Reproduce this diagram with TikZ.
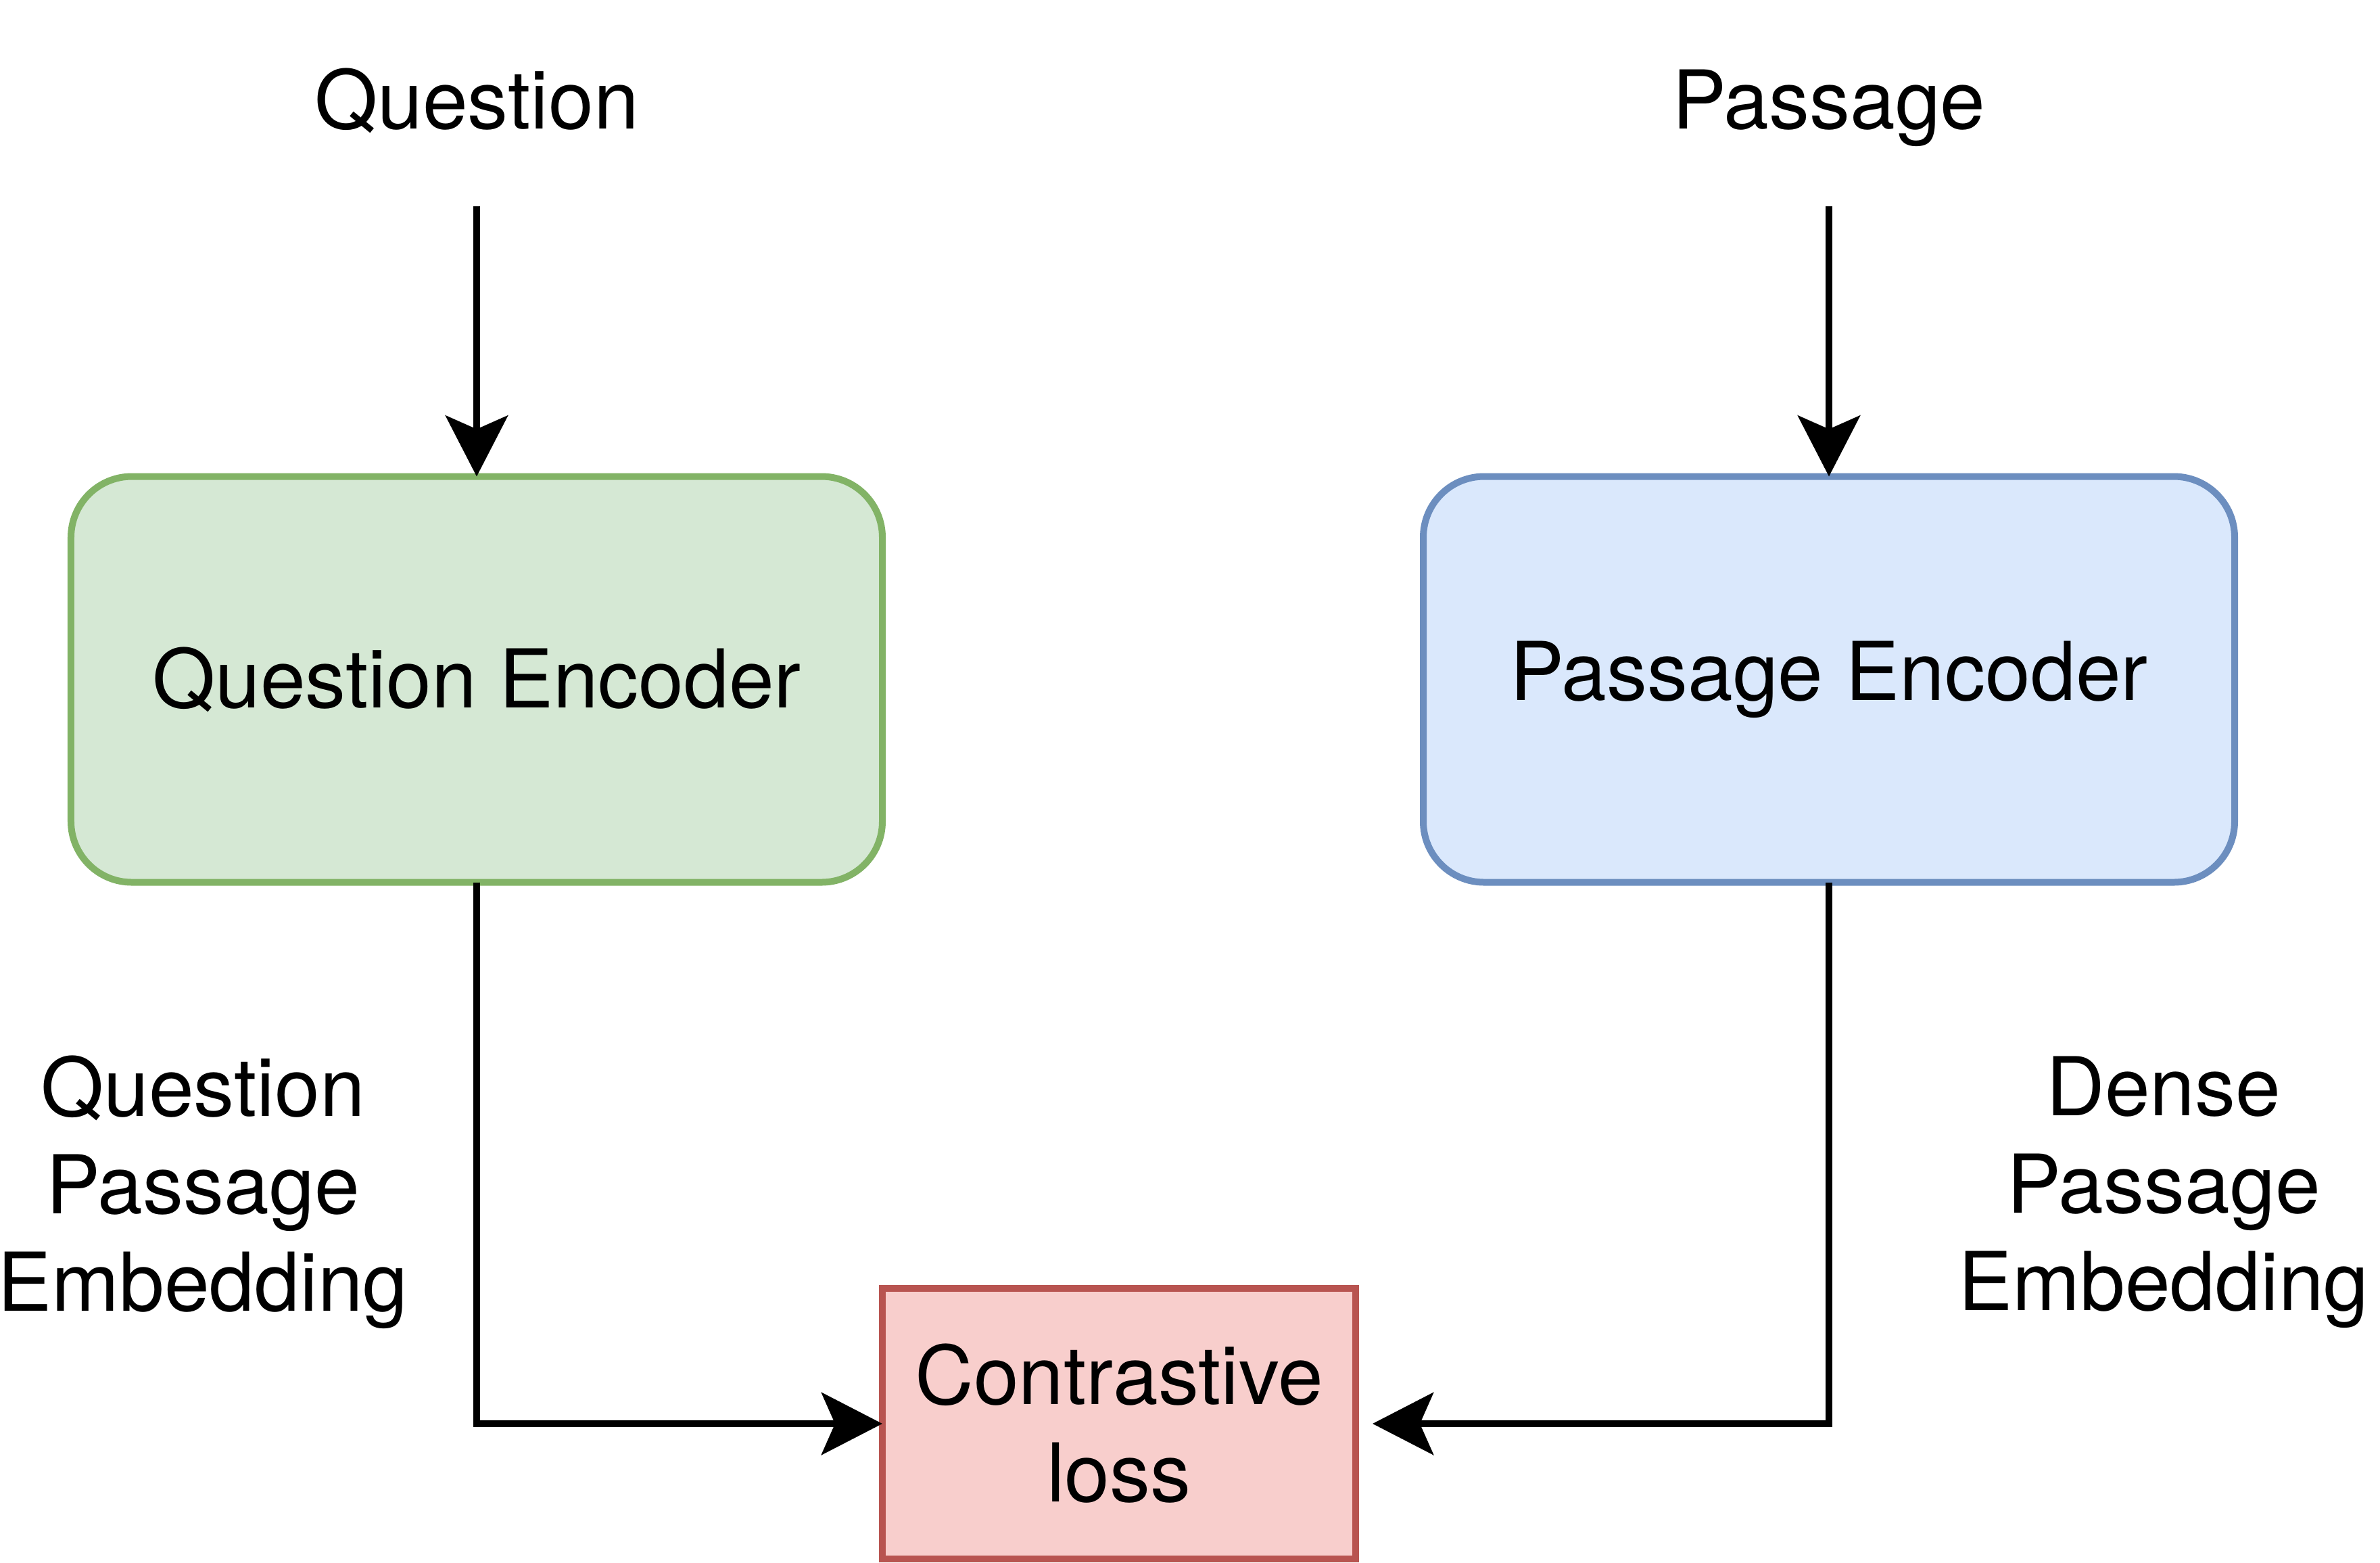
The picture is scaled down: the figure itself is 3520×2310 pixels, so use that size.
\documentclass[tikz,border=0pt]{standalone}
\usepackage{fontspec}
\setmainfont{TeX Gyre Heros}
\usetikzlibrary{arrows.meta}
\definecolor{qfill}{HTML}{D5E8D4}
\definecolor{qdraw}{HTML}{82B366}
\definecolor{pfill}{HTML}{DAE8FC}
\definecolor{pdraw}{HTML}{6C8EBF}
\definecolor{lfill}{HTML}{F8CECC}
\definecolor{ldraw}{HTML}{B85450}
\begin{document}
\begin{tikzpicture}[x=0.2pt,y=-0.2pt,
  every node/.style={font=\fontsize{24pt}{28.8pt}\selectfont, inner sep=0pt, outer sep=0pt, align=center},
  encbox/.style={draw, line width=2pt, rounded corners=18pt, minimum width=240pt, minimum height=120pt},
  lossbox/.style={draw=ldraw, fill=lfill, line width=2pt, minimum width=140pt, minimum height=80pt},
  conn/.style={line width=2pt, -{Stealth[length=18pt, width=18.4pt, inset=4pt]}}
]
\useasboundingbox (0,0) rectangle (3520,2310);
% inputs
\node[anchor=base] (qin) at (705,190) {Question};
\node[anchor=base] (pin) at (2705,190) {Passage};
\coordinate (qstart) at (705,305);
\coordinate (pstart) at (2705,305);
% encoders
\node[encbox, draw=qdraw, fill=qfill] (qenc) at (705,1004.5) {Question Encoder};
\node[encbox, draw=pdraw, fill=pfill] (penc) at (2705,1004.5) {Passage Encoder};
% loss
\node[lossbox] (loss) at (1655,2105) {Contrastive\\loss};
% labels
\node (qlab) at (300,1763) {Question\\Passage\\Embedding};
\node (plab) at (3200,1763) {Dense\\Passage\\Embedding};
% connectors
\draw[conn] (qstart) -- (qenc.north);
\draw[conn] (pstart) -- (penc.north);
\draw[conn] (qenc.south) |- (loss.west);
\draw[conn, shorten >=5pt] (penc.south) |- (loss.east);
\end{tikzpicture}
\end{document}
